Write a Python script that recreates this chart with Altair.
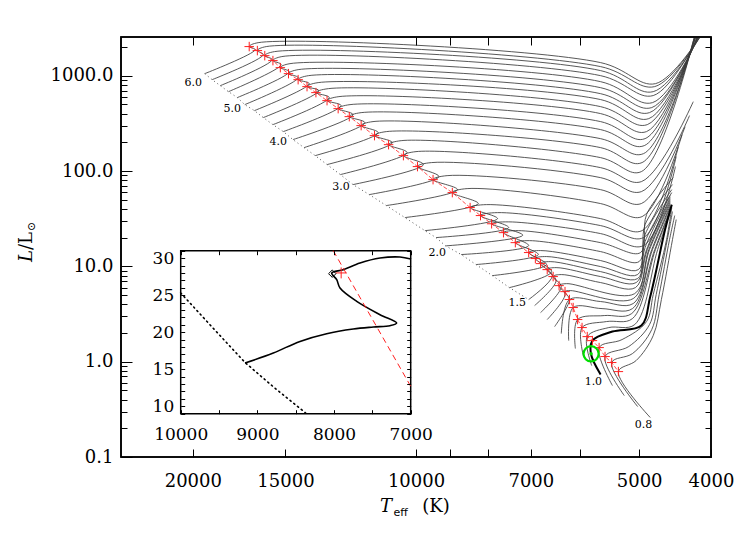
import altair as alt
import pandas as pd

# ---------------- data ----------------
# stellar masses of the tracks (Msun)
MASSES = [6.0, 5.8, 5.6, 5.4, 5.2, 5.0, 4.8, 4.6, 4.4, 4.2, 4.0, 3.8, 3.6, 3.4, 3.2, 3.0,
          2.8, 2.6, 2.4, 2.2, 2.1, 2.0, 1.9, 1.8, 1.7, 1.6, 1.5, 1.45, 1.4, 1.35, 1.3,
          1.25, 1.2, 1.15, 1.1, 1.05, 1.0, 0.95, 0.9, 0.85, 0.8]

# characteristic points of each track, log10(Teff) and log10(L/Lsun)
ZAMS_LOGT = [4.285, 4.275, 4.264, 4.253, 4.241, 4.231, 4.218, 4.206, 4.193, 4.179, 4.166, 4.151, 4.136, 4.120, 4.102, 4.085,
             4.063, 4.040, 4.015, 3.988, 3.973, 3.960, 3.939, 3.919, 3.897, 3.874, 3.848, 3.840, 3.832, 3.823, 3.813,
             3.804, 3.794, 3.785, 3.774, 3.763, 3.751, 3.735, 3.719, 3.701, 3.684]
ZAMS_LOGL = [3.022, 2.959, 2.896, 2.833, 2.771, 2.697, 2.634, 2.561, 2.487, 2.414, 2.330, 2.246, 2.162, 2.068, 1.963, 1.858,
             1.753, 1.638, 1.512, 1.375, 1.302, 1.215, 1.124, 1.019, 0.903, 0.777, 0.652, 0.589, 0.515, 0.442, 0.368,
             0.295, 0.221, 0.138, 0.054, -0.041, -0.135, -0.251, -0.356, -0.471, -0.586]

KNEE_M = [6.0, 5.8, 5.6, 5.4, 5.2, 5.0, 4.8, 4.6, 4.4, 4.2, 4.0, 3.8, 3.6, 3.4, 3.2, 3.0,
          2.8, 2.6, 2.4, 2.2, 2.1, 2.0, 1.9, 1.8, 1.7, 1.6, 1.5, 1.45, 1.4, 1.35, 1.3, 1.0]
KNEE_LOGT = [4.217, 4.206, 4.194, 4.182, 4.171, 4.159, 4.144, 4.131, 4.117, 4.101, 4.085, 4.069, 4.051, 4.032, 4.012, 3.990,
             3.969, 3.944, 3.916, 3.890, 3.875, 3.856, 3.848, 3.835, 3.824, 3.817, 3.816, 3.811, 3.804, 3.799, 3.793, 3.764]
KNEE_LOGL = [3.274, 3.222, 3.169, 3.117, 3.043, 2.980, 2.917, 2.844, 2.771, 2.687, 2.592, 2.508, 2.403, 2.298, 2.194, 2.068,
             1.942, 1.805, 1.659, 1.501, 1.407, 1.327, 1.218, 1.124, 1.019, 0.945, 0.903, 0.851, 0.788, 0.704, 0.652, 0.083]

# red crosses (end of core hydrogen burning)
TAMS_LOGT = [4.225, 4.214, 4.204, 4.193, 4.183, 4.172, 4.159, 4.147, 4.135, 4.120, 4.105, 4.090, 4.074, 4.056, 4.037, 4.017,
             3.998, 3.977, 3.951, 3.927, 3.913, 3.898, 3.882, 3.866, 3.848, 3.839, 3.832, 3.823, 3.815, 3.807, 3.799,
             3.793, 3.788, 3.782, 3.776, 3.769, 3.762, 3.753, 3.745, 3.736, 3.727]
TAMS_LOGL = [3.306, 3.264, 3.211, 3.159, 3.085, 3.022, 2.959, 2.886, 2.823, 2.739, 2.655, 2.571, 2.477, 2.372, 2.277, 2.162,
             2.047, 1.910, 1.774, 1.617, 1.533, 1.447, 1.354, 1.249, 1.145, 1.082, 1.029, 0.966, 0.893, 0.798, 0.735,
             0.652, 0.568, 0.442, 0.358, 0.263, 0.221, 0.148, 0.054, -0.009, -0.104]

HOOK_M = [6.0, 5.8, 5.6, 5.4, 5.2, 5.0, 4.8, 4.6, 4.4, 4.2, 4.0, 3.8, 3.6, 3.4, 3.2, 3.0,
          2.8, 2.6, 2.4, 2.2, 2.1, 2.0, 1.9, 1.8, 1.7, 1.6, 1.5, 1.45, 1.4, 1.35, 1.3]
HOOK_LOGT = [4.213, 4.202, 4.191, 4.181, 4.170, 4.159, 4.145, 4.132, 4.118, 4.104, 4.089, 4.074, 4.058, 4.040, 4.020, 4.000,
             3.979, 3.958, 3.931, 3.905, 3.890, 3.875, 3.862, 3.847, 3.832, 3.824, 3.819, 3.811, 3.804, 3.797, 3.792]
HOOK_LOGL = [3.347, 3.306, 3.253, 3.201, 3.127, 3.064, 3.001, 2.928, 2.865, 2.781, 2.697, 2.613, 2.519, 2.414, 2.319, 2.204,
             2.089, 1.952, 1.816, 1.648, 1.564, 1.467, 1.375, 1.270, 1.166, 1.103, 1.050, 0.987, 0.914, 0.819, 0.746]

GAP_M = [6.0, 5.8, 5.6, 5.4, 5.2, 5.0, 4.8, 4.6, 4.4, 4.2, 4.0, 3.8, 3.6, 3.4, 3.2, 3.0,
         2.8, 2.6, 2.4, 2.2, 2.1, 2.0, 1.9, 1.8, 1.7, 1.6, 1.5, 1.45, 1.4]
GAP_LOGT = [3.751, 3.751, 3.751, 3.751, 3.751, 3.751, 3.751, 3.751, 3.751, 3.751, 3.751, 3.751, 3.751, 3.751, 3.751, 3.751,
            3.751, 3.751, 3.751, 3.751, 3.751, 3.751, 3.751, 3.751, 3.751, 3.751, 3.751, 3.751, 3.751]
GAP_LOGL = [3.138, 3.096, 3.054, 3.001, 2.938, 2.875, 2.812, 2.750, 2.676, 2.603, 2.519, 2.435, 2.340, 2.246, 2.141, 2.036,
            1.931, 1.805, 1.659, 1.501, 1.428, 1.344, 1.249, 1.155, 1.061, 0.998, 0.945, 0.893, 0.830]

SUBG_M = [1.25, 1.2, 1.15, 1.1, 1.05, 1.0, 0.95, 0.9, 0.85, 0.8]
SUBG_LOGT = [3.751, 3.749, 3.746, 3.743, 3.740, 3.735, 3.722, 3.713, 3.708, 3.703]
SUBG_LOGL = [0.631, 0.557, 0.484, 0.421, 0.358, 0.316, 0.232, 0.159, 0.085, 0.012]

BASE_LOGT = [3.677, 3.678, 3.680, 3.680, 3.681, 3.682, 3.685, 3.686, 3.688, 3.689, 3.691, 3.692, 3.693, 3.695, 3.696, 3.696,
             3.696, 3.696, 3.695, 3.695, 3.693, 3.693, 3.697, 3.699, 3.700, 3.701, 3.701, 3.703, 3.704, 3.705, 3.707,
             3.707, 3.708, 3.709, 3.708, 3.705, 3.696, 3.689, 3.685, 3.682, 3.680]
BASE_LOGL = [2.917, 2.886, 2.833, 2.792, 2.718, 2.666, 2.613, 2.550, 2.487, 2.414, 2.340, 2.267, 2.183, 2.089, 1.994, 1.889,
             1.784, 1.659, 1.522, 1.375, 1.302, 1.218, 1.145, 1.050, 0.966, 0.914, 0.872, 0.830, 0.777, 0.714, 0.662,
             0.610, 0.557, 0.505, 0.452, 0.389, 0.379, 0.421, 0.389, 0.337, 0.274]

RGB1_M = [1.0, 0.95, 0.9, 0.85, 0.8]
RGB1_LOGT = [3.684, 3.680, 3.676, 3.672, 3.669]
RGB1_LOGL = [0.683, 0.704, 0.704, 0.704, 0.652]

RGB2_M = [1.9, 1.8, 1.7, 1.6, 1.5, 1.45, 1.4, 1.35, 1.3, 1.25, 1.2, 1.15, 1.1, 1.05, 1.0, 0.95, 0.9, 0.85, 0.8]
RGB2_LOGT = [3.689, 3.691, 3.691, 3.691, 3.691, 3.689, 3.688, 3.686, 3.685, 3.682, 3.681, 3.678, 3.677, 3.674,
             3.664, 3.662, 3.661, 3.658, 3.654]
RGB2_LOGL = [1.543, 1.438, 1.333, 1.260, 1.197, 1.176, 1.176, 1.176, 1.176, 1.176, 1.176, 1.176, 1.176, 1.176,
             1.386, 1.281, 1.281, 1.281, 1.281]

TIP_LOGT = [3.616, 3.616, 3.616, 3.618, 3.618, 3.619, 3.619, 3.620, 3.620, 3.622, 3.622, 3.623, 3.623, 3.624, 3.624, 3.626,
            3.631, 3.637, 3.641, 3.646, 3.649, 3.650, 3.653, 3.654, 3.655, 3.655, 3.657, 3.657, 3.657, 3.657, 3.657,
            3.657, 3.657, 3.657, 3.657, 3.657, 3.655, 3.655, 3.654, 3.651, 3.649]
TIP_LOGL = [3.421, 3.421, 3.421, 3.421, 3.421, 3.421, 3.421, 3.421, 3.421, 3.421, 3.421, 3.421, 3.421, 3.421, 3.421, 2.728,
            2.582, 2.466, 2.382, 2.257, 2.152, 2.047, 1.931, 1.858, 1.805, 1.774, 1.743, 1.722, 1.701, 1.680, 1.659,
            1.638, 1.617, 1.596, 1.575, 1.564, 1.648, 1.617, 1.575, 1.533, 1.491]

# mass labels
LABEL_TEXT = ["6.0", "5.0", "4.0", "3.0", "2.0", "1.5", "1.0", "0.8"]
LABEL_T = [19980, 17700, 15340, 12620, 9360, 7300, 5764, 4934]
LABEL_L = [846, 452, 203, 68.6, 13.9, 4.16, 0.617, 0.218]

# green circle
SUN_T = [5805]
SUN_L = [1.21]

# inset: 2 Msun track on linear axes
INSET_ZAMS_T = [10000, 9600, 9160, 8800, 8360]
INSET_ZAMS_L = [25.3, 20.8, 15.9, 12.7, 9.0]
INSET_TRACK_T = [9161, 8792, 8444, 8096, 7749, 7488, 7270, 7183, 7400, 7704, 7922, 7965, 8030, 7879, 7661, 7400, 7139, 7000]
INSET_TRACK_L = [15.84, 17.19, 18.76, 19.80, 20.43, 20.70, 20.88, 21.24, 22.36, 24.16, 25.96, 27.09, 27.99, 28.44, 29.34,
                 30.01, 30.15, 29.88]
INSET_TAMS_LINE_T = [8010, 7000]
INSET_TAMS_LINE_L = [31.0, 12.7]
INSET_CROSS_T = [7907]
INSET_CROSS_L = [28.0]
INSET_DIAMOND_T = [8023]
INSET_DIAMOND_L = [27.9]

# axis ticks
X_TICKS = [20000, 15000, 10000, 9000, 8000, 7000, 6000, 5000, 4000]
X_LABELED = [20000, 15000, 10000, 7000, 5000, 4000]
X_DOMAIN = [4000, 25000]
Y_DOMAIN = [0.1, 2550]
Y_MAJOR = [0.1, 1, 10, 100, 1000]
Y_MINOR = [0.2, 0.3, 0.4, 0.5, 0.6, 0.7, 0.8, 0.9, 2, 3, 4, 5, 6, 7, 8, 9,
           20, 30, 40, 50, 60, 70, 80, 90, 200, 300, 400, 500, 600, 700, 800, 900, 2000]
IX_DOMAIN = [7000, 10000]
IY_DOMAIN = [9, 31]
IX_TICKS = [7000, 7500, 8000, 8500, 9000, 9500, 10000]
IY_TICKS = [9, 10, 11, 12, 13, 14, 15, 16, 17, 18, 19, 20, 21, 22, 23, 24, 25, 26, 27, 28, 29, 30, 31]

# ---------------- tables ----------------
STAGES = [
    (MASSES, ZAMS_LOGT, ZAMS_LOGL),
    (KNEE_M, KNEE_LOGT, KNEE_LOGL),
    (MASSES, TAMS_LOGT, TAMS_LOGL),
    (HOOK_M, HOOK_LOGT, HOOK_LOGL),
    (GAP_M, GAP_LOGT, GAP_LOGL),
    (SUBG_M, SUBG_LOGT, SUBG_LOGL),
    (MASSES, BASE_LOGT, BASE_LOGL),
    (RGB1_M, RGB1_LOGT, RGB1_LOGL),
    (RGB2_M, RGB2_LOGT, RGB2_LOGL),
    (MASSES, TIP_LOGT, TIP_LOGL),
]
rows = []
for s, (ms, lts, lls) in enumerate(STAGES):
    for m, lt, ll in zip(ms, lts, lls):
        rows.append({"mass": m, "stage": s, "T": 10 ** lt, "L": 10 ** ll})
tracks = pd.DataFrame(rows)
thin = tracks[tracks["mass"] != 1.0]
thick = tracks[tracks["mass"] == 1.0]

zams = pd.DataFrame([{"idx": i, "T": 10 ** t, "L": 10 ** l}
                     for i, (m, t, l) in enumerate(zip(MASSES, ZAMS_LOGT, ZAMS_LOGL)) if m >= 1.5])
tams = pd.DataFrame([{"idx": i, "T": 10 ** t, "L": 10 ** l}
                     for i, (t, l) in enumerate(zip(TAMS_LOGT, TAMS_LOGL))])
labels = pd.DataFrame({"label": LABEL_TEXT, "T": LABEL_T, "L": LABEL_L})
sun = pd.DataFrame({"T": SUN_T, "L": SUN_L})
frame = pd.DataFrame({"T1": [X_DOMAIN[0]], "T2": [X_DOMAIN[1]], "L1": [Y_DOMAIN[0]], "L2": [Y_DOMAIN[1]]})

i_zams = pd.DataFrame({"idx": list(range(len(INSET_ZAMS_T))), "T": INSET_ZAMS_T, "L": INSET_ZAMS_L})
i_track = pd.DataFrame({"idx": list(range(len(INSET_TRACK_T))), "T": INSET_TRACK_T, "L": INSET_TRACK_L})
i_tams = pd.DataFrame({"idx": [0, 1], "T": INSET_TAMS_LINE_T, "L": INSET_TAMS_LINE_L})
i_cross = pd.DataFrame({"T": INSET_CROSS_T, "L": INSET_CROSS_L})
i_diam = pd.DataFrame({"T": INSET_DIAMOND_T, "L": INSET_DIAMOND_L})
i_frame = pd.DataFrame({"T1": [IX_DOMAIN[1]], "T2": [IX_DOMAIN[0]], "L1": [IY_DOMAIN[0]], "L2": [IY_DOMAIN[1]]})
ONE = pd.DataFrame({"k": [0]})

# ---------------- styling ----------------
SERIF = "DejaVu Serif"
SANS = "DejaVu Sans"
W, H = 590, 420

XS = alt.Scale(type="log", domain=X_DOMAIN, reverse=True, nice=False)
YS = alt.Scale(type="log", domain=Y_DOMAIN, nice=False)
IXS = alt.Scale(type="linear", domain=IX_DOMAIN, range=[289.7, 59.7], nice=False, zero=False)
IYS = alt.Scale(type="linear", domain=IY_DOMAIN, range=[376.7, 213.7], nice=False, zero=False)


def axis(**kw):
    base = dict(title=None, domain=False, grid=False, ticks=True, tickColor="black", tickWidth=1,
                labelColor="black", labelFont=SERIF, labelFontSize=18, labelFlush=False,
                labelOverlap=False, labelBound=False, zindex=1)
    base.update(kw)
    return alt.Axis(**base)


lab_expr = "indexof([" + ",".join(str(v) for v in X_LABELED) + "], datum.value) >= 0 ? datum.label : ''"
ax_bottom = axis(orient="bottom", values=X_TICKS, format="d", labelExpr=lab_expr,
                 tickSize=8, offset=-8, labelPadding=15)
ax_top = axis(orient="top", values=X_TICKS, labels=False, tickSize=8, offset=-8)
ax_left = axis(orient="left", values=Y_MAJOR, format=".1f", tickSize=11, offset=-11, labelPadding=8)
ax_left_minor = axis(orient="left", values=Y_MINOR, labels=False, tickSize=6, offset=-6)
ax_right = axis(orient="right", values=Y_MAJOR, labels=False, tickSize=11, offset=-11)
ax_right_minor = axis(orient="right", values=Y_MINOR, labels=False, tickSize=6, offset=-6)

iax_bottom = axis(orient="bottom", values=IX_TICKS, format="d",
                  labelExpr="datum.value % 1000 == 0 ? datum.label : ''",
                  tickSize=4, offset=-47.3, labelPadding=13, labelFontSize=17)
iax_top = axis(orient="top", values=IX_TICKS, labels=False, tickSize=4, offset=-217.7)
iax_left = axis(orient="left", values=IY_TICKS, format="d",
                labelExpr="datum.value % 5 == 0 ? datum.label : ''",
                tickSize=4, offset=-63.7, labelPadding=7, labelFontSize=17)
iax_right = axis(orient="right", values=IY_TICKS, labels=False, tickSize=4, offset=-304.3)

PLUS = "M-1,0L1,0M0,-1L0,1"


def mx(a=None):
    return alt.X("T:Q", scale=XS, axis=a)


def my(a=None):
    return alt.Y("L:Q", scale=YS, axis=a)


def ix(a=None):
    return alt.X("T:Q", scale=IXS, axis=a)


def iy(a=None):
    return alt.Y("L:Q", scale=IYS, axis=a)


layers = [
    alt.Chart(thin).mark_line(interpolate="catmull-rom", clip=True, color="#3a3a3a", strokeWidth=0.85)
    .encode(x=mx(ax_bottom), y=my(ax_left), detail="mass:N", order="stage:Q"),
    alt.Chart(zams).mark_line(clip=True, color="#555555", strokeWidth=1, strokeDash=[1, 3])
    .encode(x=mx(ax_top), y=my(ax_left_minor), order="idx:Q"),
    alt.Chart(thick).mark_line(interpolate="catmull-rom", clip=True, color="black", strokeWidth=2)
    .encode(x=mx(), y=my(ax_right), order="stage:Q"),
    alt.Chart(tams).mark_line(clip=True, color="#ff2020", strokeWidth=0.8, strokeDash=[4, 2])
    .encode(x=mx(), y=my(ax_right_minor), order="idx:Q"),
    alt.Chart(tams).mark_point(shape=PLUS, size=90, filled=False, color="#ff2020", strokeWidth=1, opacity=1)
    .encode(x=mx(), y=my()),
    alt.Chart(sun).mark_point(shape="circle", size=230, filled=False, color="#00dd00", strokeWidth=2.2, opacity=1)
    .encode(x=mx(), y=my()),
    alt.Chart(sun).mark_point(shape="circle", size=12, filled=True, color="#00dd00", opacity=1)
    .encode(x=mx(), y=my()),
    alt.Chart(labels).mark_text(font=SERIF, fontSize=11, color="black")
    .encode(x=mx(), y=my(), text="label:N"),
    # main frame
    alt.Chart(frame).mark_rect(filled=False, stroke="black", strokeWidth=1.6)
    .encode(x=alt.X("T1:Q", scale=XS, axis=None), x2="T2:Q",
            y=alt.Y("L1:Q", scale=YS, axis=None), y2="L2:Q"),
    # inset
    alt.Chart(i_frame).mark_rect(fill="white", stroke="black", strokeWidth=1.5)
    .encode(x=alt.X("T1:Q", scale=IXS, axis=iax_bottom), x2="T2:Q",
            y=alt.Y("L1:Q", scale=IYS, axis=iax_left), y2="L2:Q"),
    alt.Chart(i_zams).mark_line(color="black", strokeWidth=1.6, strokeDash=[1.2, 3.6], strokeCap="round")
    .encode(x=ix(), y=iy(), order="idx:Q"),
    alt.Chart(i_track).mark_line(interpolate="catmull-rom", color="black", strokeWidth=1.6)
    .encode(x=ix(iax_top), y=iy(iax_right), order="idx:Q"),
    alt.Chart(i_tams).mark_line(color="#ff2020", strokeWidth=1, strokeDash=[6, 4])
    .encode(x=ix(), y=iy(), order="idx:Q"),
    alt.Chart(i_cross).mark_point(shape=PLUS, size=120, filled=False, color="#ff2020", strokeWidth=1, opacity=1)
    .encode(x=ix(), y=iy()),
    alt.Chart(i_diam).mark_point(shape="diamond", size=55, filled=False, color="black", strokeWidth=1, opacity=1)
    .encode(x=ix(), y=iy()),
    # axis titles
    alt.Chart(ONE).mark_text(text="T", font=SERIF, fontStyle="italic", fontSize=18, align="center",
                             baseline="alphabetic", color="black")
    .encode(x=alt.value(265), y=alt.value(475)),
    alt.Chart(ONE).mark_text(text="eff", font=SANS, fontSize=11, align="left", baseline="alphabetic", color="black")
    .encode(x=alt.value(272.5), y=alt.value(479)),
    alt.Chart(ONE).mark_text(text="(K)", font=SERIF, fontSize=18, align="center", baseline="alphabetic", color="black")
    .encode(x=alt.value(315), y=alt.value(475)),
    alt.Chart(ONE).mark_text(text="L", font=SERIF, fontStyle="italic", fontSize=18, angle=270, align="right",
                             baseline="middle", color="black")
    .encode(x=alt.value(-94), y=alt.value(213)),
    alt.Chart(ONE).mark_text(text="/L", font=SERIF, fontSize=18, angle=270, align="left",
                             baseline="middle", color="black")
    .encode(x=alt.value(-94), y=alt.value(213)),
    alt.Chart(ONE).mark_text(text="⊙", font=SERIF, fontSize=11, angle=270, align="left",
                             baseline="middle", color="black")
    .encode(x=alt.value(-89), y=alt.value(194)),
]

chart = (
    alt.layer(*layers)
    .resolve_scale(x="independent", y="independent")
    .resolve_axis(x="independent", y="independent")
    .properties(width=W, height=H, autosize=alt.AutoSizeParams(type="none"),
                padding={"left": 113, "top": 29, "right": 28, "bottom": 69})
    .configure_view(stroke="black", strokeWidth=1.5)
)

chart.save("out.html", embed_options={"renderer": "svg", "actions": False})
